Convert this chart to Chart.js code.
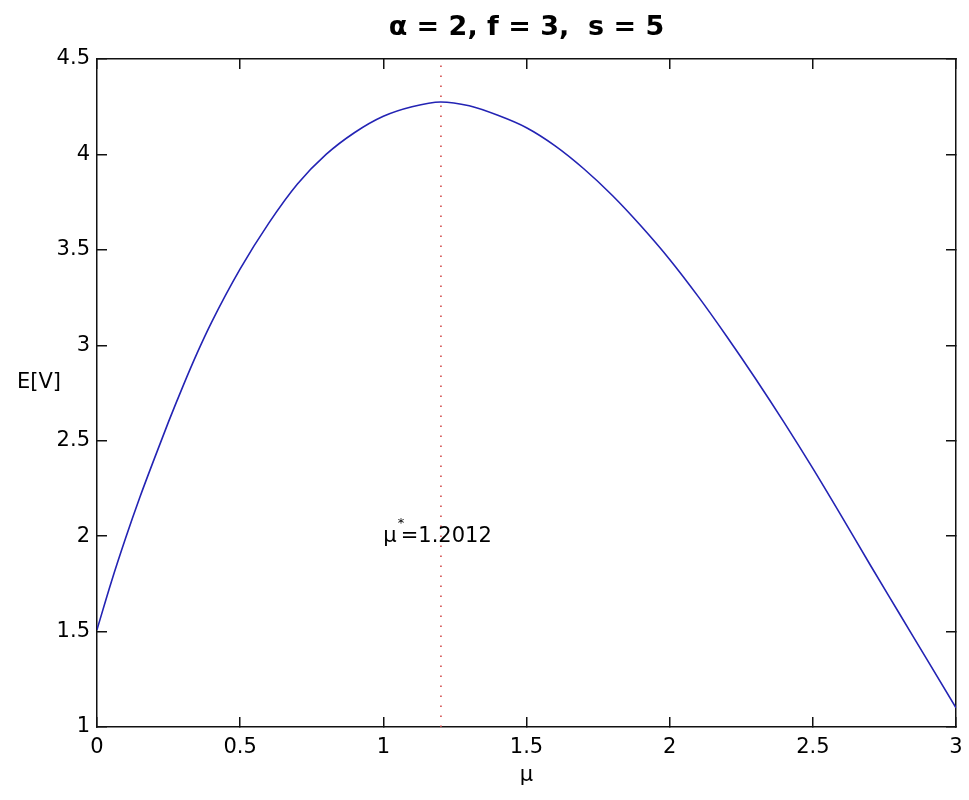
<!DOCTYPE html>
<html>
<head>
<meta charset="utf-8">
<title>E[V] vs mu</title>
<script src="https://cdn.jsdelivr.net/npm/chart.js@4/dist/chart.umd.min.js"></script>
<style>
  html, body { margin: 0; padding: 0; background: #fff; }
  #wrap { width: 969px; height: 800px; position: relative; }
</style>
</head>
<body>
<div id="wrap"><canvas id="chart"></canvas></div>
<script>
/* E[V] as a function of mu, MATLAB-style figure. */

const MU = [0, 0.05, 0.1, 0.15, 0.2, 0.25, 0.3, 0.35, 0.4, 0.5, 0.6, 0.7, 0.8, 0.9, 1.0,
            1.1, 1.2, 1.3, 1.4, 1.5, 1.6, 1.7, 1.8, 1.9, 2.0, 2.1, 2.2, 2.3, 2.4, 2.5,
            2.6, 2.7, 2.8, 2.9, 3.0];
const EV = [1.51, 1.76, 1.99, 2.205, 2.405, 2.60, 2.785, 2.96, 3.12, 3.40, 3.64, 3.845, 4.00, 4.115, 4.20,
            4.25, 4.275, 4.255, 4.205, 4.14, 4.045, 3.925, 3.785, 3.625, 3.45, 3.255, 3.045, 2.825, 2.595, 2.355,
            2.105, 1.85, 1.60, 1.35, 1.10];
const MU_STAR = 1.2012;
const X_TICKS = [0, 0.5, 1, 1.5, 2, 2.5, 3];
const Y_TICKS = [1, 1.5, 2, 2.5, 3, 3.5, 4, 4.5];
const TITLE = "α = 2, f = 3,  s = 5";

const FONT = "'DejaVu Sans', 'Liberation Sans', Arial, sans-serif";
Chart.defaults.color = "#000";
Chart.defaults.font.family = FONT;

const setTicks = (list) => (scale) => { scale.ticks = list.map((v) => ({ value: v })); };

// inward tick marks on all four sides, box frame from the axis borders
function frameAxis(position, ticksShown, list, extra) {
  return {
    type: "linear",
    position,
    min: list[0],
    max: list[list.length - 1],
    afterBuildTicks: setTicks(list),
    border: { display: true, color: "#111", width: 1.5 },
    grid: { drawOnChartArea: false, drawTicks: true, tickLength: -10, color: "#111", lineWidth: 1.5 },
    ticks: { display: ticksShown, font: { size: 21 }, color: "#000", callback: (v) => String(v) },
    ...extra,
  };
}

const noPad = (s) => { s.paddingLeft = 0; s.paddingRight = 0; s.paddingTop = 0; s.paddingBottom = 0; };

const textPlugin = {
  id: "matlabText",
  afterDraw(chart) {
    const { ctx, chartArea, scales } = chart;
    ctx.save();
    ctx.fillStyle = "#000";
    ctx.textBaseline = "middle";
    // y label, horizontal like MATLAB
    ctx.font = `21px ${FONT}`;
    ctx.textAlign = "center";
    ctx.fillText("E[V]", 39, (chartArea.top + chartArea.bottom) / 2 - 10);
    // annotation mu^* = value
    const x0 = scales.x.getPixelForValue(1.0);
    const y0 = scales.y.getPixelForValue(2.0);
    ctx.textAlign = "left";
    ctx.fillText("μ", x0, y0);
    const w = ctx.measureText("μ").width;
    ctx.fillText("=1.2012", x0 + w + 4, y0);
    ctx.font = `13px ${FONT}`;
    ctx.fillText("*", x0 + w + 1, y0 - 13);
    ctx.restore();
  },
};

new Chart(document.getElementById("chart"), {
  type: "scatter",
  data: {
    datasets: [
      {
        label: "E[V]",
        data: MU.map((m, i) => ({ x: m, y: EV[i] })),
        showLine: true,
        borderColor: "#2323b4",
        borderWidth: 1.6,
        pointRadius: 0,
        cubicInterpolationMode: "monotone",
      },
      {
        label: "mu*",
        data: [{ x: MU_STAR, y: Y_TICKS[0] }, { x: MU_STAR, y: Y_TICKS[Y_TICKS.length - 1] }],
        showLine: true,
        borderColor: "#d24a4a",
        borderWidth: 1.6,
        borderDash: [1.6, 8.4],
        pointRadius: 0,
      },
    ],
  },
  options: {
    responsive: true,
    maintainAspectRatio: false,
    animation: false,
    layout: { padding: 0 },
    plugins: {
      legend: { display: false },
      tooltip: { enabled: false },
      title: {
        display: true,
        text: TITLE,
        fullSize: false,
        color: "#000",
        font: { size: 27, weight: "bold", family: FONT, lineHeight: 1.2 },
        padding: { top: 12, bottom: 0 },
      },
    },
    scales: {
      x: frameAxis("bottom", true, X_TICKS, {
        title: { display: true, text: "μ", font: { size: 21 }, color: "#000", padding: { top: 0, bottom: 12 } },
        afterFit: (s) => { s.height = 73; noPad(s); },
        ticks: { display: true, font: { size: 21 }, color: "#000", padding: 18, maxRotation: 0, callback: (v) => String(v) },
      }),
      y: frameAxis("left", true, Y_TICKS, {
        afterFit: (s) => { s.width = 97; noPad(s); },
        ticks: { display: true, font: { size: 21 }, color: "#000", padding: 17, callback: (v) => String(v) },
      }),
      x2: frameAxis("top", false, X_TICKS, { afterFit: (s) => { s.height = 14.6; noPad(s); } }),
      y2: frameAxis("right", false, Y_TICKS, { afterFit: (s) => { s.width = 13; noPad(s); } }),
    },
  },
  plugins: [textPlugin],
});
</script>
</body>
</html>
